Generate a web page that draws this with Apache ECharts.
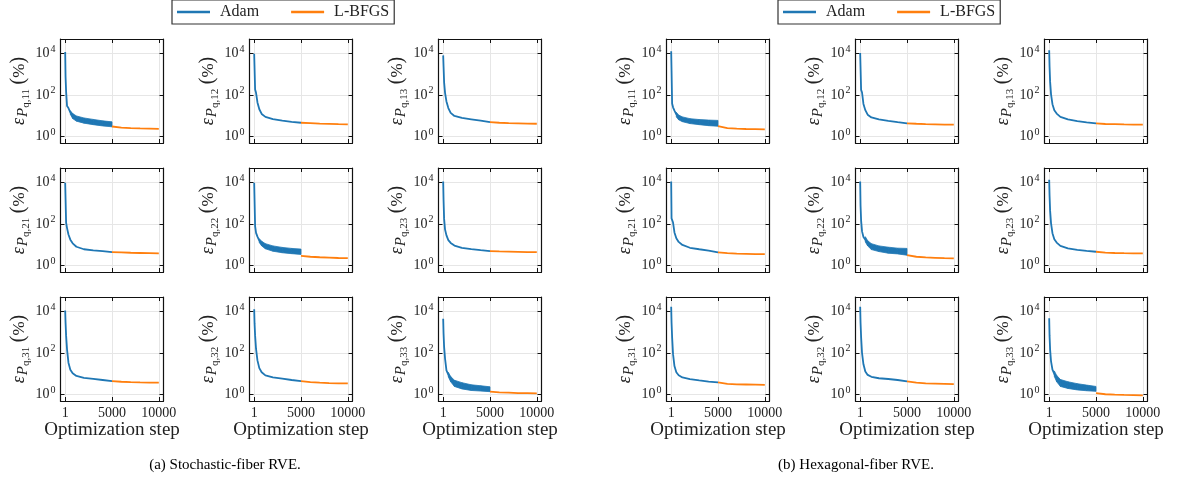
<!DOCTYPE html>
<html><head><meta charset="utf-8">
<script src="https://cdn.jsdelivr.net/npm/echarts@6/dist/echarts.min.js"></script>
<style>html,body{margin:0;padding:0;background:#fff}#c{width:1179px;height:494px}</style>
</head><body><div id="c"></div><script>
// ---------- data ----------
const adamSteps  = [1, 40, 100, 200, 350, 550, 800, 1200, 2000, 3000, 4000, 5000];
const bandSteps  = [550, 800, 1200, 2000, 3000, 4000, 5000];
const lbfgsSteps = [5000, 6000, 7000, 8000, 9000, 10000];
const xTicks = [1, 5000, 10000];
const yTicks = [1, 100, 10000];
const panelIds = ['11','12','13','21','22','23','31','32','33'];
const seriesNames = ['Adam', 'L-BFGS'];
const captions = ['(a) Stochastic-fiber RVE.', '(b) Hexagonal-fiber RVE.'];
const xName = 'Optimization step';

// (a) stochastic-fiber RVE
const adamA11 = [12000, 800, 150, 30, 24, 15, 10, 7.5, 6, 5, 4.4, 4.0];
const bandLoA11 = [12, 7.5, 5.6, 4.5, 3.8, 3.3, 3.0];
const bandHiA11 = [18, 13, 10, 8, 6.8, 5.8, 5.2];
const lbfgsA11 = [3.1, 2.75, 2.6, 2.5, 2.45, 2.4];
const adamA12 = [10000, 10000, 190, 130, 45, 21, 12.5, 9, 7, 5.9, 5.2, 4.7];
const lbfgsA12 = [4.7, 4.5, 4.3, 4.15, 4.0, 3.9];
const adamA13 = [8300, 2500, 420, 130, 50, 24, 14, 10, 8, 6.9, 5.9, 5.0];
const lbfgsA13 = [5.0, 4.7, 4.5, 4.4, 4.3, 4.2];
const adamA21 = [10000, 10000, 120, 65, 32, 18, 12, 8.2, 6.2, 5.5, 5.0, 4.5];
const lbfgsA21 = [4.5, 4.35, 4.2, 4.1, 4.0, 3.9];
const adamA22 = [10000, 10000, 80, 38, 25, 16, 11.5, 8.7, 6.7, 5.6, 5.1, 4.7];
const bandLoA22 = [13, 9, 6.5, 5, 4.2, 3.8, 3.5];
const bandHiA22 = [20, 15, 11.5, 9, 7.6, 6.8, 6.3];
const lbfgsA22 = [3.0, 2.7, 2.55, 2.45, 2.35, 2.3];
const adamA23 = [11500, 1500, 180, 55, 29, 17, 12.5, 9.3, 7.3, 6.3, 5.6, 5.0];
const lbfgsA23 = [5.0, 4.85, 4.75, 4.65, 4.55, 4.5];
const adamA31 = [11500, 3000, 700, 150, 35, 16, 10.8, 8, 6.5, 5.8, 5.1, 4.5];
const lbfgsA31 = [4.5, 4.2, 4.0, 3.9, 3.85, 3.8];
const adamA32 = [13000, 2800, 700, 160, 45, 19, 12, 8.5, 6.8, 5.9, 5.1, 4.5];
const lbfgsA32 = [4.5, 4.0, 3.8, 3.65, 3.55, 3.5];
const adamA33 = [4600, 900, 200, 55, 15, 9.3, 5.6, 3.5, 2.7, 2.2, 2.0, 1.85];
const bandLoA33 = [7.3, 4.2, 2.5, 1.9, 1.6, 1.5, 1.4];
const bandHiA33 = [12, 7.5, 5, 3.8, 3.0, 2.7, 2.4];
const lbfgsA33 = [1.4, 1.3, 1.25, 1.2, 1.18, 1.16];

// (b) hexagonal-fiber RVE
const adamB11 = [13000, 1500, 40, 26, 18, 12, 8.5, 7, 5.6, 4.9, 4.6, 4.4];
const bandLoB11 = [9, 6.5, 5.3, 4.3, 3.8, 3.4, 3.2];
const bandHiB11 = [15, 11, 9, 7.4, 6.7, 6.3, 6.1];
const lbfgsB11 = [3.2, 2.6, 2.45, 2.35, 2.3, 2.25];
const adamB12 = [10700, 10700, 180, 135, 38, 19, 11.5, 8.5, 6.8, 5.8, 5.0, 4.4];
const lbfgsB12 = [4.4, 4.2, 4.05, 3.95, 3.85, 3.8];
const adamB13 = [14500, 2500, 450, 110, 37, 19, 13, 9, 6.8, 5.6, 4.9, 4.4];
const lbfgsB13 = [4.4, 4.1, 4.0, 3.9, 3.85, 3.8];
const adamB21 = [11500, 190, 160, 120, 40, 21, 14, 10, 7.3, 6.2, 5.3, 4.4];
const lbfgsB21 = [4.4, 4.0, 3.85, 3.75, 3.65, 3.6];
const adamB22 = [11500, 800, 150, 45, 24, 18, 12, 8.5, 6.6, 5.6, 5.1, 4.7];
const bandLoB22 = [14, 9, 6, 4.8, 4.0, 3.7, 3.2];
const bandHiB22 = [25, 16, 11.5, 9, 7.8, 7, 6.8];
const lbfgsB22 = [3.2, 2.7, 2.5, 2.4, 2.3, 2.25];
const adamB23 = [14000, 2500, 450, 110, 37, 19, 13, 9, 6.8, 5.8, 5.2, 4.7];
const lbfgsB23 = [4.7, 4.3, 4.1, 4.0, 3.95, 3.9];
const adamB31 = [17400, 3000, 600, 90, 24, 12, 8.7, 6.8, 5.6, 4.9, 4.3, 3.9];
const lbfgsB31 = [3.9, 3.3, 3.15, 3.1, 3.05, 3.0];
const adamB32 = [17400, 3000, 600, 100, 29, 13, 9, 7.3, 6.2, 5.7, 5.1, 4.4];
const lbfgsB32 = [4.4, 3.8, 3.5, 3.4, 3.3, 3.2];
const adamB33 = [4800, 700, 150, 40, 16, 10, 6.3, 4.2, 3.2, 2.5, 2.2, 1.9];
const bandLoB33 = [7.6, 4.2, 2.5, 2.0, 1.7, 1.55, 1.45];
const bandHiB33 = [14, 8.5, 5.4, 4.2, 3.4, 2.9, 2.5];
const lbfgsB33 = [1.2, 1.05, 1.0, 0.97, 0.95, 0.93];

const panels = [
  {adam: adamA11, lbfgs: lbfgsA11, lo: bandLoA11, hi: bandHiA11},
  {adam: adamA12, lbfgs: lbfgsA12},
  {adam: adamA13, lbfgs: lbfgsA13},
  {adam: adamA21, lbfgs: lbfgsA21},
  {adam: adamA22, lbfgs: lbfgsA22, lo: bandLoA22, hi: bandHiA22},
  {adam: adamA23, lbfgs: lbfgsA23},
  {adam: adamA31, lbfgs: lbfgsA31},
  {adam: adamA32, lbfgs: lbfgsA32},
  {adam: adamA33, lbfgs: lbfgsA33, lo: bandLoA33, hi: bandHiA33},
  {adam: adamB11, lbfgs: lbfgsB11, lo: bandLoB11, hi: bandHiB11},
  {adam: adamB12, lbfgs: lbfgsB12},
  {adam: adamB13, lbfgs: lbfgsB13},
  {adam: adamB21, lbfgs: lbfgsB21},
  {adam: adamB22, lbfgs: lbfgsB22, lo: bandLoB22, hi: bandHiB22},
  {adam: adamB23, lbfgs: lbfgsB23},
  {adam: adamB31, lbfgs: lbfgsB31},
  {adam: adamB32, lbfgs: lbfgsB32},
  {adam: adamB33, lbfgs: lbfgsB33, lo: bandLoB33, hi: bandHiB33}
];

// ---------- layout ----------
const BLUE = '#1f77b4', ORANGE = '#ff7f0e';
const FONT = '"Liberation Serif", "Times New Roman", serif';
const TXT = '#222';
const colLeft = [[60.5, 249.5, 438.5], [666.5, 855.5, 1044.5]];
const rowTop = [39, 168, 297];
const PW = 103, PH = 104;
const XMIN = -499, XMAX = 10500;
const YMIN = 0.497, YMAX = 51000;

const zip = (xs, ys) => xs.map((x, k) => [x, ys[k]]);
const grids = [], xAxes = [], yAxes = [], lineSeries = [], bandSeries = [];

panels.forEach((p, i) => {
  const g = Math.floor(i / 9), r = Math.floor((i % 9) / 3), c = i % 3;
  grids.push({left: colLeft[g][c], top: rowTop[r], width: PW, height: PH, containLabel: false});
  const axLine = {show: true, onZero: false, lineStyle: {color: '#111', width: 1.2}};
  const tick = (vals) => ({show: true, inside: true, length: 4, customValues: vals, lineStyle: {color: '#111', width: 1}});
  xAxes.push({
    type: 'value', gridIndex: i, position: 'bottom', min: XMIN, max: XMAX,
    axisLine: axLine, axisTick: tick(xTicks),
    axisLabel: {show: r === 2, customValues: xTicks, margin: 5, fontSize: 14, fontFamily: FONT, color: TXT,
      formatter: v => String(v)},
    splitLine: {show: true, lineStyle: {color: '#e6e6e6', width: 1}},
    name: r === 2 ? xName : '', nameLocation: 'middle', nameGap: 20,
    nameTextStyle: {fontSize: 19, fontFamily: FONT, color: TXT}
  });
  xAxes.push({
    type: 'value', gridIndex: i, position: 'top', min: XMIN, max: XMAX,
    axisLine: axLine, axisTick: tick(xTicks), axisLabel: {show: false}, splitLine: {show: false}
  });
  const id = panelIds[i % 9];
  yAxes.push({
    type: 'log', logBase: 10, gridIndex: i, position: 'left', min: YMIN, max: YMAX,
    axisLine: axLine, axisTick: tick(yTicks),
    axisLabel: {show: true, customValues: yTicks, margin: 5, fontFamily: FONT, color: TXT,
      formatter: v => '{b|10}{s|' + Math.round(Math.log10(v)) + '}',
      rich: {b: {fontSize: 14, fontFamily: FONT, color: TXT}, s: {fontSize: 10, fontFamily: FONT, color: TXT, padding: [0, 0, 9, 1]}}},
    splitLine: {show: true, lineStyle: {color: '#e6e6e6', width: 1}},
    name: '{e|ε}{p|P}{s|q,' + id + '}{g| }{par|(}{pct|%}{par|)}',
    nameLocation: 'middle', nameGap: 25,
    nameTextStyle: {fontFamily: FONT, color: TXT, rich: {
      e: {fontSize: 18, fontStyle: 'italic', fontFamily: FONT, color: TXT},
      p: {fontSize: 15, fontStyle: 'italic', fontFamily: FONT, color: TXT, padding: [7, 0, 0, 1]},
      s: {fontSize: 11, fontFamily: FONT, color: TXT, padding: [14, 0, 0, 0]},
      g: {fontSize: 18, fontFamily: FONT},
      par: {fontSize: 20, fontFamily: FONT, color: TXT},
      pct: {fontSize: 17, fontFamily: FONT, color: TXT}
    }}
  });
  yAxes.push({
    type: 'log', logBase: 10, gridIndex: i, position: 'right', min: YMIN, max: YMAX,
    axisLine: axLine, axisTick: tick(yTicks), axisLabel: {show: false}, splitLine: {show: false}
  });
  const xi = 2 * i, yi = 2 * i;
  if (p.lo) {
    const lo = p.lo, hi = p.hi;
    bandSeries.push({
      type: 'custom', name: seriesNames[0], xAxisIndex: xi, yAxisIndex: yi, silent: true, z: 2,
      clip: true,
      data: bandSteps.map((s, k) => [s, lo[k], hi[k]]),
      encode: {x: 0, y: [1, 2]},
      renderItem: (params, api) => {
        const k = params.dataIndex;
        if (k >= bandSteps.length - 1) return null;
        const pts = [
          api.coord([bandSteps[k], lo[k]]),
          api.coord([bandSteps[k + 1], lo[k + 1]]),
          api.coord([bandSteps[k + 1], hi[k + 1]]),
          api.coord([bandSteps[k], hi[k]])
        ];
        return {type: 'polygon', shape: {points: pts},
          style: {fill: BLUE, stroke: BLUE, lineWidth: 0.8}};
      }
    });
  }
  lineSeries.push({type: 'line', name: seriesNames[0], xAxisIndex: xi, yAxisIndex: yi,
    data: zip(adamSteps, p.adam), symbol: 'none', showSymbol: false, z: 3,
    lineStyle: {color: BLUE, width: 1.8}, itemStyle: {color: BLUE}});
  lineSeries.push({type: 'line', name: seriesNames[1], xAxisIndex: xi, yAxisIndex: yi,
    data: zip(lbfgsSteps, p.lbfgs), symbol: 'none', showSymbol: false, z: 3,
    lineStyle: {color: ORANGE, width: 1.8}, itemStyle: {color: ORANGE}});
});

const legendBase = {
  data: [{name: seriesNames[0], icon: 'rect', itemStyle: {color: BLUE}},
         {name: seriesNames[1], icon: 'rect', itemStyle: {color: ORANGE}}],
  top: 0, orient: 'horizontal', selectedMode: false,
  padding: [4, 5, 4, 5], itemWidth: 33, itemHeight: 2.5, itemGap: 32,
  borderColor: '#333', borderWidth: 1.2, borderRadius: 0,
  textStyle: {fontSize: 16, fontFamily: FONT, color: TXT, padding: [0, 0, 0, 5], lineHeight: 16}
};

const chart = echarts.init(document.getElementById('c'), null, {renderer: 'canvas'});
chart.setOption({
  animation: false,
  backgroundColor: '#fff',
  legend: [Object.assign({left: 172}, legendBase), Object.assign({left: 778}, legendBase)],
  grid: grids, xAxis: xAxes, yAxis: yAxes, series: lineSeries.concat(bandSeries),
  graphic: [
    {type: 'text', x: 225, y: 465, style: {text: captions[0], font: '15px ' + FONT, fill: '#000', textAlign: 'center', textVerticalAlign: 'middle'}},
    {type: 'text', x: 856, y: 465, style: {text: captions[1], font: '15px ' + FONT, fill: '#000', textAlign: 'center', textVerticalAlign: 'middle'}}
  ]
});
</script></body></html>
